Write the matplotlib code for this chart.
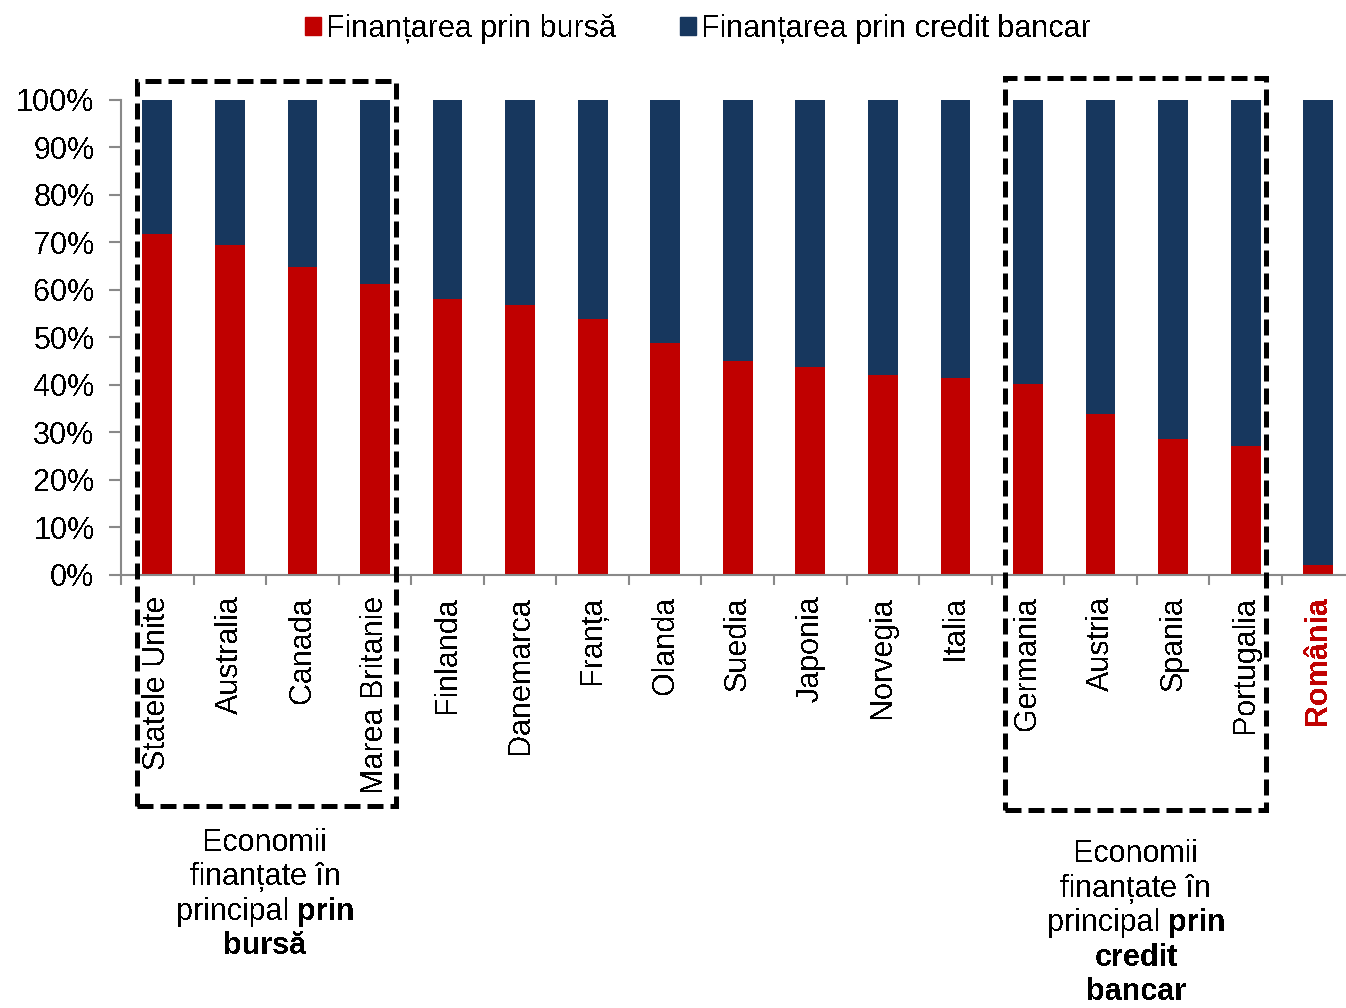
import numpy as np
import matplotlib.pyplot as plt
from matplotlib.patches import Rectangle, Patch

plt.rcParams['font.family'] = ['Liberation Sans', 'DejaVu Sans']
plt.rcParams['text.antialiased'] = False

# share of financing (%), stock market vs. bank credit
countries = ['Statele Unite', 'Australia', 'Canada', 'Marea Britanie', 'Finlanda',
             'Danemarca', 'Franța', 'Olanda', 'Suedia', 'Japonia', 'Norvegia',
             'Italia', 'Germania', 'Austria', 'Spania', 'Portugalia', 'România']
bursa = [71.7, 69.3, 64.8, 61.3, 58.0, 56.8, 53.8, 48.8, 45.0, 43.7, 42.1,
         41.5, 40.2, 33.9, 28.5, 27.2, 2.0]
credit = [28.3, 30.7, 35.2, 38.7, 42.0, 43.2, 46.2, 51.2, 55.0, 56.3, 57.9,
          58.5, 59.8, 66.1, 71.5, 72.8, 98.0]
series_labels = ['Finanțarea prin bursă', 'Finanțarea prin credit bancar']
yticks = list(range(0, 101, 10))

note_left = [[('Economii', 'normal')],
             [('finanțate în', 'normal')],
             [('principal', 'normal'), ('prin', 'bold')],
             [('bursă', 'bold')]]
note_right = [[('Economii', 'normal')],
              [('finanțate în', 'normal')],
              [('principal', 'normal'), ('prin', 'bold')],
              [('credit', 'bold')],
              [('bancar', 'bold')]]

RED = '#C00000'
BLUE = '#17375E'
GREY = '#898989'
FS = 22

W, H = 1346, 1008
fig = plt.figure(figsize=(W / 100, H / 100), dpi=100)


def fx(x):
    return x / W


def fy(y):
    return 1 - y / H


step = 72.56
ax = fig.add_axes([fx(121), fy(575), step * len(countries) / W, 475.5 / H])
x = np.arange(len(countries))
ax.bar(x, bursa, width=0.41, color=RED)
ax.bar(x, credit, bottom=bursa, width=0.41, color=BLUE)
ax.set_xlim(-0.5, len(countries) - 0.5)
ax.set_ylim(0, 100)

for s in ['top', 'right']:
    ax.spines[s].set_visible(False)
for s in ['left', 'bottom']:
    ax.spines[s].set_color(GREY)
    ax.spines[s].set_linewidth(1.5)

ax.set_yticks(yticks)
ax.set_yticklabels([f'{v}%' for v in yticks], fontsize=FS)
ax.tick_params(axis='y', length=9, width=1.5, color=GREY, pad=10)

ax.set_xticks(x)
ax.set_xticklabels(countries, rotation=90, fontsize=FS)
ax.set_xticks(np.arange(len(countries)) - 0.5, minor=True)
ax.tick_params(axis='x', which='major', length=0, pad=15)
ax.tick_params(axis='x', which='minor', length=7, width=1.5, color=GREY)
ro = ax.get_xticklabels()[-1]
ro.set_color(RED)
ro.set_fontweight('bold')

handles = [Patch(color=RED), Patch(color=BLUE)]
fig.legend(handles, series_labels, loc='center', bbox_to_anchor=(fx(698), fy(29)),
           ncol=2, frameon=False, fontsize=FS, handlelength=0.52, handleheight=0.52,
           handletextpad=0.16, columnspacing=2.1, borderpad=0, borderaxespad=0)

# dashed boxes around the two groups
for x0, y0, x1, y1 in [(136.5, 81, 395.5, 805.5), (1004.5, 78, 1265.5, 809.5)]:
    fig.add_artist(Rectangle((fx(x0), fy(y1)), fx(x1) - fx(x0), fy(y0) - fy(y1),
                             transform=fig.transFigure, fill=False, ec='black',
                             lw=3.6, ls=(0, (3.2, 1.4)), clip_on=False))

renderer = fig.canvas.get_renderer()


def write_note(cx, base, lines, spacing=34.5):
    for i, parts in enumerate(lines):
        y = fy(base + i * spacing)
        texts = [fig.text(0, y, t, fontsize=FS, fontweight=w, va='baseline', ha='left')
                 for t, w in parts]
        widths = [t.get_window_extent(renderer).width for t in texts]
        gap = 8
        total = sum(widths) + gap * (len(texts) - 1)
        left = cx - total / 2
        for t, w in zip(texts, widths):
            t.set_x(fx(left))
            left += w + gap


write_note(265, 851, note_left)
write_note(1136, 862, note_right)

fig.savefig('out.png', dpi=100)
